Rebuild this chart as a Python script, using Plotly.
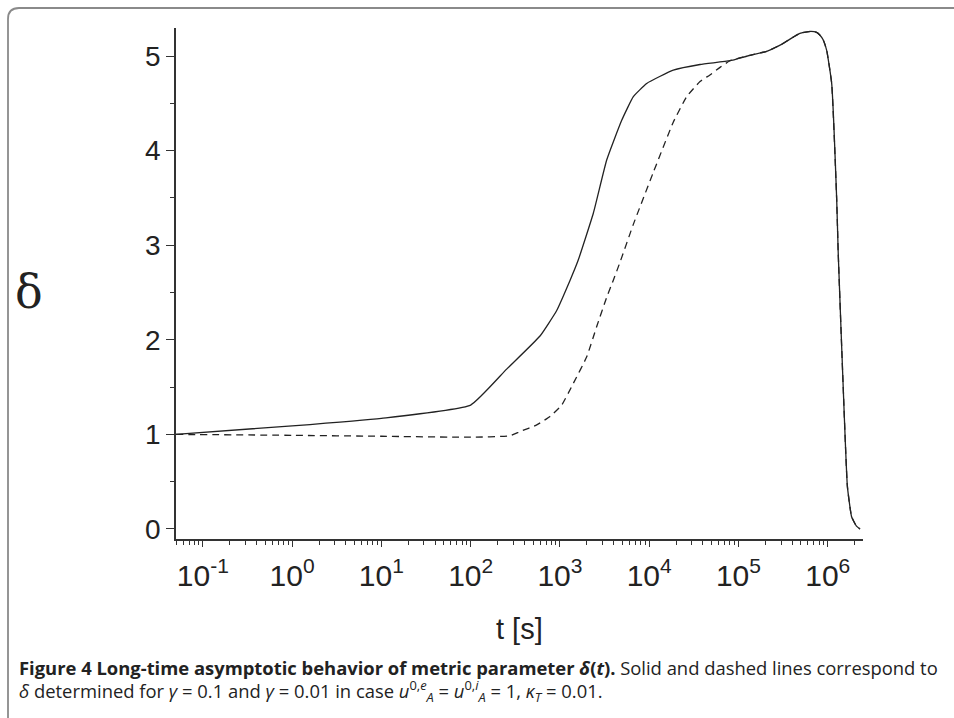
import plotly.graph_objects as go

# ---- data ----
t_solid = [0.05, 1, 10, 100, 253, 598, 920, 1300, 1600, 2370, 3340, 4920, 6640, 9380,
           18600, 37100, 80400, 126000, 207000, 300000, 411000, 489000, 649000, 751000, 819000,
           891000, 973000, 1107000, 1260000, 1310000, 1490000, 1660000, 1850000, 2100000, 2300000]
d_solid = [1.00, 1.09, 1.17, 1.31, 1.69, 2.04, 2.31, 2.63, 2.84, 3.34, 3.90, 4.32, 4.57, 4.71,
           4.85, 4.91, 4.95, 5.00, 5.05, 5.12, 5.20, 5.24, 5.26, 5.25, 5.22,
           5.17, 5.06, 4.71, 3.48, 2.92, 1.50, 0.45, 0.13, 0.03, 0.00]

t_dashed_early = [0.05, 1, 10, 100, 275, 357, 550, 774, 1047, 1413, 1995, 2582, 3342, 3963,
                  4710, 6640, 11120, 18600, 26300, 37100, 47900, 62100]
d_dashed_early = [1.00, 0.99, 0.98, 0.97, 0.985, 1.03, 1.10, 1.19, 1.31, 1.54, 1.82, 2.14, 2.45, 2.63,
                  2.82, 3.22, 3.77, 4.30, 4.57, 4.73, 4.80, 4.88]
# beyond ~8e4 s the dashed curve coincides with the solid one
t_dashed = t_dashed_early + [t for t in t_solid if t >= 80400]
d_dashed = d_dashed_early + [d for t, d in zip(t_solid, d_solid) if t >= 80400]

x_tick_vals = [0.1, 1, 10, 100, 1e3, 1e4, 1e5, 1e6]
x_tick_text = ["10<sup>-1</sup>", "10<sup>0</sup>", "10<sup>1</sup>", "10<sup>2</sup>",
               "10<sup>3</sup>", "10<sup>4</sup>", "10<sup>5</sup>", "10<sup>6</sup>"]
y_tick_vals = [0, 1, 2, 3, 4, 5]
y_tick_text = ["0", "1", "2", "3", "4", "5"]

x_title = "t [s]"
y_title = "δ"
caption_line1 = ("<b>Figure 4 Long-time asymptotic behavior of metric parameter <i>δ</i>(<i>t</i>).</b>"
                 " Solid and dashed lines correspond to")
caption_line2 = ("<i>δ</i> determined for <i>γ</i> = 0.1 and <i>γ</i> = 0.01 in case "
                 "<i>u</i><sup>0,<i>e</i></sup><sub><i>A</i></sub> = "
                 "<i>u</i><sup>0,<i>i</i></sup><sub><i>A</i></sub> = 1, <i>κ</i><sub><i>T</i></sub> = 0.01.")

# minor tick positions on the log axis (2..9 per decade)
x_minor = [m * 10.0 ** k for k in range(-2, 7) for m in range(2, 10)]
x_minor = [v for v in x_minor if 0.05 <= v <= 2.48e6]

W, H = 954, 718
L, R, T, B = 176, 91, 28, 179
pw, ph = W - L - R, H - T - B


def px(x):
    return (x - L) / pw


def py(y):
    return (H - B - y) / ph


ink = "#222222"
sans = "Arial, Liberation Sans, Helvetica, sans-serif"
cap_font = "Open Sans, sans-serif"

fig = go.Figure()
fig.add_trace(go.Scatter(x=t_dashed, y=d_dashed, mode="lines",
                         line=dict(color=ink, width=1.3, dash="7px,5px", shape="spline", smoothing=0.4),
                         showlegend=False, hoverinfo="skip"))
fig.add_trace(go.Scatter(x=t_solid, y=d_solid, mode="lines",
                         line=dict(color=ink, width=1.3, shape="spline", smoothing=0.4),
                         showlegend=False, hoverinfo="skip"))

fig.update_layout(
    width=W, height=H,
    margin=dict(l=L, r=R, t=T, b=B, pad=0),
    paper_bgcolor="white", plot_bgcolor="white",
    font=dict(family=sans, color=ink),
    xaxis=dict(type="log", range=[-1.301, 6.395], showgrid=False, zeroline=False,
               showline=True, linecolor="#333333", linewidth=1.5,
               ticks="outside", ticklen=6, tickwidth=1.3, tickcolor="#333333",
               tickmode="array", tickvals=x_tick_vals, ticktext=x_tick_text,
               tickfont=dict(size=30, color=ink, family=sans), ticklabelstandoff=3,
               minor=dict(tickmode="array", tickvals=x_minor, ticks="outside", ticklen=4,
                          tickwidth=1.1, tickcolor="#333333", showgrid=False)),
    yaxis=dict(range=[-0.106, 5.296], showgrid=False, zeroline=False,
               showline=True, linecolor="#333333", linewidth=1.5,
               ticks="outside", ticklen=8, tickwidth=1.3, tickcolor="#333333",
               tickmode="array", tickvals=y_tick_vals, ticktext=y_tick_text,
               tickfont=dict(size=28, color=ink, family=sans), ticklabelstandoff=0,
               minor=dict(dtick=0.5, tick0=0, ticks="outside", ticklen=4,
                          tickwidth=1.1, tickcolor="#333333", showgrid=False)),
    annotations=[
        dict(text=x_title, xref="paper", yref="paper", x=px(519), y=py(629),
             xanchor="center", yanchor="middle", showarrow=False,
             font=dict(size=29, color=ink, family=sans)),
        dict(text=y_title, xref="paper", yref="paper", x=px(29), y=py(292),
             xanchor="center", yanchor="middle", showarrow=False,
             font=dict(size=46, color=ink, family="DejaVu Serif, serif")),
        dict(text=caption_line1, xref="paper", yref="paper", x=px(17), y=py(667),
             xanchor="left", yanchor="middle", showarrow=False,
             font=dict(size=18.4, color=ink, family=cap_font)),
        dict(text=caption_line2, xref="paper", yref="paper", x=px(17), y=py(691),
             xanchor="left", yanchor="middle", showarrow=False,
             font=dict(size=18.4, color=ink, family=cap_font)),
    ],
    shapes=[
        dict(type="path", xref="paper", yref="paper",
             path=(f"M {px(8)},{py(740)} L {px(8)},{py(19)} "
                   f"Q {px(8)},{py(8)} {px(19)},{py(8)} L {px(980)},{py(8)}"),
             line=dict(color="#8a8a8a", width=1.8)),
    ],
)

fig.write_html("out.html")
